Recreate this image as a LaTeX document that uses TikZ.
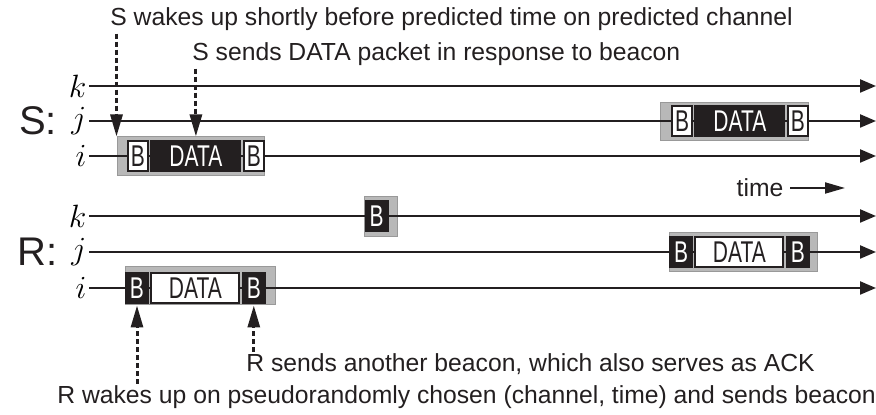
\documentclass[tikz,border=0pt]{standalone}
\usepackage{fontspec}
\setmainfont{Liberation Sans}
\newfontfamily\boxfont[FakeStretch=0.7]{Liberation Sans}
\usetikzlibrary{arrows.meta,positioning,fit}
\definecolor{ink}{RGB}{35,31,32}
\tikzset{
  tline/.style={ink, line width=1.1pt, -{Triangle[length=8pt,width=6.5pt]}},
  hint/.style={ink, line width=1.5pt, dash pattern=on 2.5pt off 1.5pt, -{Triangle[length=11pt,width=6pt]}},
  pad/.style={fill=black!28, draw=black!40, line width=0.5pt, inner sep=0pt},
  lab/.style={anchor=east, inner sep=1pt, font=\Large, scale=1.12},
  note/.style={ink, inner sep=1pt, anchor=base west, font=\fontsize{12.35}{14}\selectfont},
  pkt/.style={inner sep=0pt, minimum height=16pt, font=\boxfont\fontsize{15}{16}\selectfont},
  bw/.style={pkt, draw=ink, fill=white, line width=1pt, minimum width=10pt, minimum height=15pt, text=ink},
  bb/.style={pkt, fill=ink, text=white, minimum width=12pt},
  dw/.style={pkt, draw=ink, fill=white, line width=1pt, minimum width=44pt, minimum height=15pt, text=ink},
  db/.style={pkt, fill=ink, text=white, minimum width=45.5pt},
}
\begin{document}
\begin{tikzpicture}[x=0.5pt, y=-0.5pt, node distance=0.5pt]
  \useasboundingbox (0,0) rectangle (876,415);
  % gray slots
  \node[pad, fit={(117,137) (264,176)}] (SiPad) {};
  \node[pad, fit={(660,103) (808,141)}] (SjPad) {};
  \node[pad, fit={(364,197) (397,237)}] (RkPad) {};
  \node[pad, fit={(669,233) (817,272)}] (RjPad) {};
  \node[pad, fit={(125,267) (275,305)}] (RiPad) {};
  % channels
  \node[ink, font=\fontsize{20}{22}\selectfont] (S) at (38,121) {S:};
  \node[ink, font=\fontsize{20}{22}\selectfont] (R) at (38,252) {R:};
  \foreach \ch/\y in {k/86, j/121, i/156} {
    \node[lab] (S\ch) at (89,\y) {$\ch$};
    \coordinate (S\ch-end) at (876,\y);
    \draw[tline] (S\ch) -- (S\ch-end);
  }
  \foreach \ch/\y in {k/216, j/252, i/288} {
    \node[lab] (R\ch) at (89,\y) {$\ch$};
    \coordinate (R\ch-end) at (876,\y);
    \draw[tline] (R\ch) -- (R\ch-end);
  }
  % packets of S
  \node[bw] (SiB1) at (138,156) {B};
  \node[db, right=of SiB1] (SiD) {DATA};
  \node[bw, right=of SiD] (SiB2) {B};
  \node[bw] (SjB1) at (682,121) {B};
  \node[db, right=of SjB1] (SjD) {DATA};
  \node[bw, right=of SjD] (SjB2) {B};
  % packets of R
  \node[bb] (RkB) at (376.5,216) {B};
  \node[bb] (RjB1) at (681,252) {B};
  \node[dw, right=of RjB1] (RjD) {DATA};
  \node[bb, right=of RjD] (RjB2) {B};
  \node[bb] (RiB1) at (137,288) {B};
  \node[dw, right=of RiB1] (RiD) {DATA};
  \node[bb, right=of RiD] (RiB2) {B};
  % time
  \node[ink, font=\fontsize{12.35}{14}\selectfont] (time) at (760,188) {time};
  \coordinate (time-end) at (845,188);
  \draw[ink, line width=1pt, -{Triangle[length=10pt,width=5.5pt]}] (time) -- (time-end);
  % notes
  \node[note] (Swake) at (108,26) {S wakes up shortly before predicted time on predicted channel};
  \node[note] (Ssend) at (190,61) {S sends DATA packet in response to beacon};
  \node[note] (Rack) at (244,372) {R sends another beacon, which also serves as ACK};
  \node[note] (Rwake) at (55,404) {R wakes up on pseudorandomly chosen (channel, time) and sends beacon};
  \draw[hint] (SiPad.west |- Swake.south) -- (SiPad.north west);
  \draw[hint] (SiD |- Ssend.south) -- (SiD |- SiPad.north);
  \draw[hint] (RiB1 |- Rwake.north) -- (RiB1 |- RiPad.south);
  \draw[hint] (RiB2 |- Rack.north) -- (RiB2 |- RiPad.south);
\end{tikzpicture}
\end{document}
